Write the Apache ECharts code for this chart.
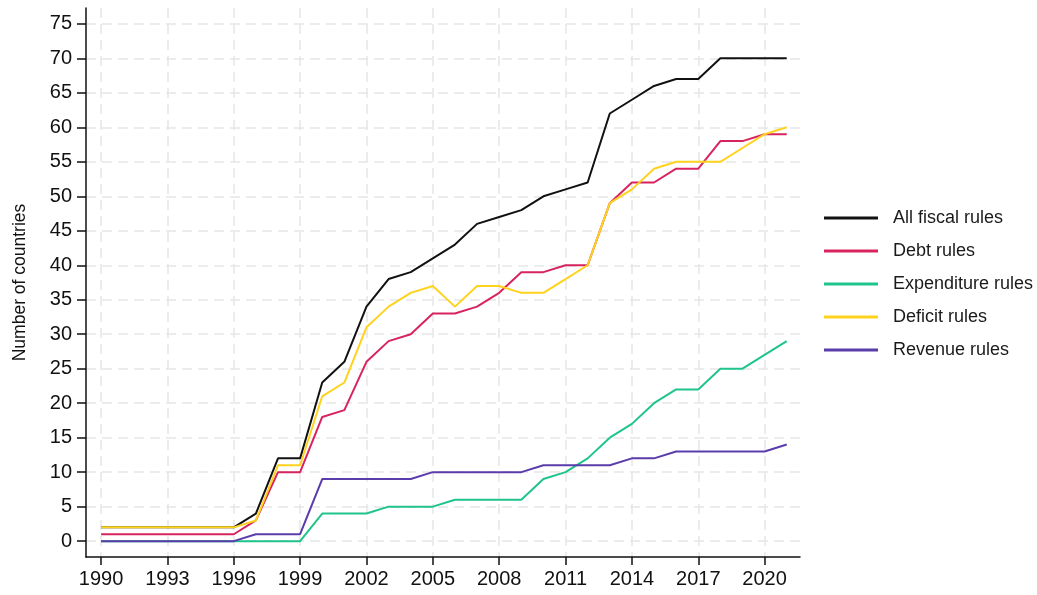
<!DOCTYPE html>
<html>
<head>
<meta charset="utf-8">
<script src="https://cdn.jsdelivr.net/npm/echarts@6/dist/echarts.min.js"></script>
<style>
  html, body { margin: 0; padding: 0; background: #fff; }
  #chart { width: 1037px; height: 595px; }
</style>
</head>
<body>
<div id="chart"></div>
<script>
// years 1990 - 2021
const years = [1990, 1991, 1992, 1993, 1994, 1995, 1996, 1997, 1998, 1999, 2000, 2001, 2002, 2003, 2004, 2005,
  2006, 2007, 2008, 2009, 2010, 2011, 2012, 2013, 2014, 2015, 2016, 2017, 2018, 2019, 2020, 2021];

const allRules = [2, 2, 2, 2, 2, 2, 2, 4, 12, 12, 23, 26, 34, 38, 39, 41, 43, 46, 47, 48, 50, 51, 52, 62, 64, 66, 67, 67, 70, 70, 70, 70];
const debtRules = [1, 1, 1, 1, 1, 1, 1, 3, 10, 10, 18, 19, 26, 29, 30, 33, 33, 34, 36, 39, 39, 40, 40, 49, 52, 52, 54, 54, 58, 58, 59, 59];
const expRules = [0, 0, 0, 0, 0, 0, 0, 0, 0, 0, 4, 4, 4, 5, 5, 5, 6, 6, 6, 6, 9, 10, 12, 15, 17, 20, 22, 22, 25, 25, 27, 29];
const deficitRules = [2, 2, 2, 2, 2, 2, 2, 3, 11, 11, 21, 23, 31, 34, 36, 37, 34, 37, 37, 36, 36, 38, 40, 49, 51, 54, 55, 55, 55, 57, 59, 60];
const revenueRules = [0, 0, 0, 0, 0, 0, 0, 1, 1, 1, 9, 9, 9, 9, 9, 10, 10, 10, 10, 10, 11, 11, 11, 11, 12, 12, 13, 13, 13, 13, 13, 14];

const xTicks = [1990, 1993, 1996, 1999, 2002, 2005, 2008, 2011, 2014, 2017, 2020];
const yTicks = [0, 5, 10, 15, 20, 25, 30, 35, 40, 45, 50, 55, 60, 65, 70, 75];

const seriesNames = ['All fiscal rules', 'Debt rules', 'Expenditure rules', 'Deficit rules', 'Revenue rules'];
const seriesValues = [allRules, debtRules, expRules, deficitRules, revenueRules];
const colors = ['#111111', '#d8245e', '#1fc48a', '#ffd21e', '#5b3cab'];

const chart = echarts.init(document.getElementById('chart'), null, { renderer: 'canvas' });

// dashed light grid, same for both axes
const gridLine = { show: true, lineStyle: { color: '#e6e6e6', width: 1.5, type: [10, 6] } };
const fontFam = '"Liberation Sans", Arial, sans-serif';

const option = {
  animation: false,
  color: colors,
  textStyle: { fontFamily: fontFam },
  grid: { left: 86, right: 237, top: 8, bottom: 38, outerBoundsMode: 'none' },
  legend: {
    orient: 'vertical',
    left: 819,
    top: 203,
    icon: 'rect',
    itemWidth: 54,
    itemHeight: 3,
    itemGap: 13,
    data: seriesNames,
    textStyle: { fontSize: 18, color: '#1a1a1a', lineHeight: 20, padding: [0, 0, 0, 10], fontFamily: fontFam }
  },
  xAxis: {
    type: 'value',
    min: 1989.32,
    max: 2021.6,
    axisLine: { onZero: false, lineStyle: { color: '#111', width: 1.5 } },
    axisTick: { show: true, length: 8, customValues: xTicks, lineStyle: { color: '#111', width: 1.5 } },
    axisLabel: { customValues: xTicks, fontSize: 20, color: '#111', margin: 12, formatter: v => String(v) },
    splitLine: gridLine
  },
  yAxis: {
    type: 'value',
    min: -2.3,
    max: 77.3,
    name: 'Number of countries',
    nameLocation: 'middle',
    nameRotate: 90,
    nameGap: 57,
    nameTextStyle: { fontSize: 17.5, color: '#111' },
    axisLine: { show: true, lineStyle: { color: '#111', width: 1.5 } },
    axisTick: { show: true, length: 9, customValues: yTicks, lineStyle: { color: '#111', width: 1.5 } },
    axisLabel: { customValues: yTicks, fontSize: 20, color: '#111', margin: 14 },
    splitLine: gridLine
  },
  series: seriesNames.map((name, i) => ({
    name: name,
    type: 'line',
    symbol: 'none',
    data: years.map((y, j) => [y, seriesValues[i][j]]),
    lineStyle: { width: 2, color: colors[i] }
  }))
};

chart.setOption(option);
</script>
</body>
</html>
